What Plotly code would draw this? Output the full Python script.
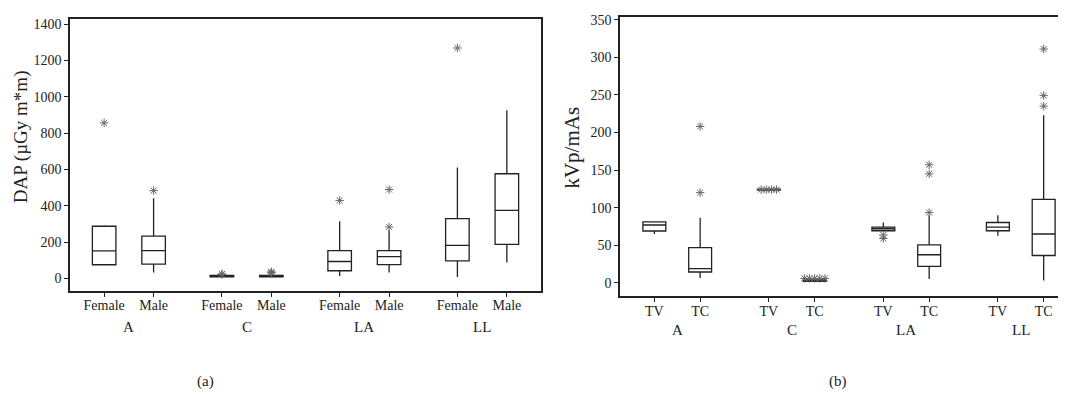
import plotly.graph_objects as go

# ---------------- data ----------------
groups = ["A", "C", "LA", "LL"]

# Panel (a): DAP by sex
sexes = ["Female", "Male"]
dap_lowerfence = [75, 33, 9, 9, 13, 33, 7, 87]
dap_q1 = [75, 78, 8, 8, 42, 76, 96, 187]
dap_median = [151, 153, 12, 12, 93, 120, 182, 374]
dap_q3 = [287, 233, 16, 16, 153, 153, 329, 576]
dap_upperfence = [293, 441, 17, 17, 314, 265, 610, 925]
dap_outliers = [[856], [483], [22, 25], [30, 33, 36], [429], [283, 489], [1268], []]

# Panel (b): kVp/mAs by technique
techs = ["TV", "TC"]
kv_lowerfence = [65, 6.6, 124, 2.5, 69.3, 5.3, 62.8, 3.1]
kv_q1 = [69, 14.5, 123.3, 2.0, 69.3, 22, 69.3, 36.4]
kv_median = [77, 19, 124, 3, 72, 37.4, 74.2, 65]
kv_q3 = [81, 47, 124.7, 4.0, 74.2, 50.5, 80.3, 111]
kv_upperfence = [81, 86.5, 124, 3.5, 80.3, 90, 90, 223]
kv_outliers = [[], [120, 208], [124, 124, 124, 124], [6, 6, 6, 6, 6],
               [59, 63.7], [93.5, 145, 157], [], [235, 249, 311]]

# ---------------- styling ----------------
FONT = "Liberation Serif"
INK = "#222"
PAGE_OFF = 8          # default body margin of the html page
W, H = 1066 - PAGE_OFF, 397 - PAGE_OFF


def px(xp):
    return (xp - PAGE_OFF) / W


def py(yp):
    return (H - (yp - PAGE_OFF)) / H


fig = go.Figure()


def add_panel(xaxis, yaxis, subs, offset, lf, q1, med, q3, uf, outs, dodge):
    positions, labels = [], []
    for gi, g in enumerate(groups):
        for si, s in enumerate(subs):
            positions.append(gi + (-offset if si == 0 else offset))
            labels.append(s)
    for i, pos in enumerate(positions):
        fig.add_trace(go.Box(
            x=[pos], q1=[q1[i]], median=[med[i]], q3=[q3[i]],
            lowerfence=[lf[i]], upperfence=[uf[i]],
            width=0.2, whiskerwidth=0, boxpoints=False,
            fillcolor="white", line=dict(color=INK, width=1.3),
            xaxis=xaxis, yaxis=yaxis, showlegend=False, hoverinfo="skip"))
    ox, oy = [], []
    for i, pos in enumerate(positions):
        counts = {}
        for v in outs[i]:
            counts[v] = counts.get(v, 0) + 1
        for v, n in counts.items():
            for k in range(n):
                ox.append(pos + (k - (n - 1) / 2) * dodge)
                oy.append(v)
    fig.add_trace(go.Scatter(
        x=ox, y=oy, mode="markers",
        marker=dict(symbol="asterisk-open", size=7, color="#666",
                    line=dict(color="#666", width=1)),
        xaxis=xaxis, yaxis=yaxis, showlegend=False, hoverinfo="skip"))
    return positions, labels


pos_a, lab_a = add_panel("x", "y", sexes, 0.21, dap_lowerfence, dap_q1, dap_median,
                         dap_q3, dap_upperfence, dap_outliers, 0.04)
pos_b, lab_b = add_panel("x2", "y2", techs, 0.2, kv_lowerfence, kv_q1, kv_median,
                         kv_q3, kv_upperfence, kv_outliers, 0.045)

axis_common = dict(showline=True, linecolor=INK, linewidth=1.5, ticks="outside",
                   ticklen=4, tickcolor=INK, tickwidth=1, showgrid=False,
                   zeroline=False, tickfont=dict(family=FONT, size=14, color=INK))

fig.update_layout(
    width=W, height=H, margin=dict(l=0, r=0, t=0, b=0),
    plot_bgcolor="white", paper_bgcolor="white",
    font=dict(family=FONT, color=INK),
    xaxis=dict(domain=[px(70), px(541)], range=[-0.5, 3.5], tickvals=pos_a,
               ticktext=lab_a, mirror=True, anchor="y", ticklabelstandoff=-4,
               **axis_common),
    yaxis=dict(domain=[py(290), py(15)], range=[-70, 1428],
               tickvals=[0, 200, 400, 600, 800, 1000, 1200, 1400],
               mirror=True, anchor="x", **axis_common),
    xaxis2=dict(domain=[px(620), 1.0], range=[-0.5, 3.395], tickvals=pos_b,
                ticktext=lab_b, mirror=True, anchor="y2", ticklabelstandoff=-3,
                **axis_common),
    yaxis2=dict(domain=[py(295), py(12.7)], range=[-17.5, 354],
                tickvals=[0, 50, 100, 150, 200, 250, 300, 350],
                mirror=False, anchor="x2", **axis_common),
)


def text_ann(x, y, text, size, xref="paper", angle=0):
    return dict(x=x, y=y, xref=xref, yref="paper", text=text, textangle=angle,
                showarrow=False, xanchor="center", yanchor="middle",
                font=dict(family=FONT, size=size, color=INK))


ann = []
for gi, g in enumerate(groups):
    ann.append(text_ann(gi, py(326), g, 15, xref="x"))
    ann.append(text_ann(gi, py(329), g, 15, xref="x2"))
ann.append(text_ann(px(20.5), py(134), "DAP (µGy m*m)", 19, angle=-90))
ann.append(text_ann(px(572), py(145), "kVp/mAs", 21, angle=-90))
ann.append(text_ann(px(205), py(381), "(a)", 15))
ann.append(text_ann(px(838), py(381), "(b)", 15))
fig.update_layout(annotations=ann)

fig.write_html("out.html")
